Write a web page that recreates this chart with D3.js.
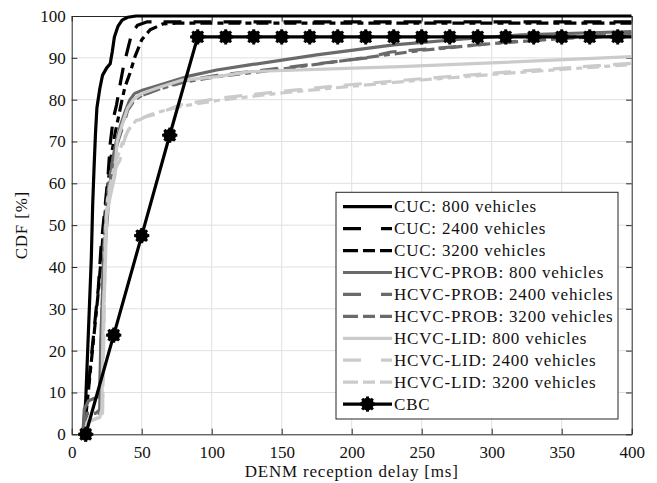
<!DOCTYPE html>
<html>
<head>
<meta charset="utf-8">
<script src="https://cdn.jsdelivr.net/npm/d3@7"></script>
<style>
  html, body { margin: 0; padding: 0; background: #fff; }
  svg { display: block; }
</style>
</head>
<body>
<svg id="chart" width="657" height="483" font-family="'Liberation Serif', 'DejaVu Serif', serif"></svg>
<script>
// Axis ticks
const xTicks = [0, 50, 100, 150, 200, 250, 300, 350, 400];
const yTicks = [0, 10, 20, 30, 40, 50, 60, 70, 80, 90, 100];

// Series: [delay (ms), CDF (%)]
const cuc800 = [[8,0],[10,8],[12,25],[14,42],[15,55],[16,64],[17,72],[18,78],[20,82.5],[22,85.8],[25,87.6],[27.5,88.6],[29,91.5],[30.5,95],[33,97.5],[36,99],[40,99.7],[46,100],[400,100]];
const cuc2400 = [[10,5],[13,15],[16,25],[19,35],[21,45],[24,55],[26,62],[27.5,69.5],[29.7,75.5],[32,78.7],[34.5,83.5],[37,88],[40.5,92.7],[43,96],[47,97.8],[54,98.6],[400,98.6]];
const cuc3200 = [[10,4],[13,14],[16,24],[19,34],[22,46],[25,57],[28,66],[31,72],[33.5,76],[36,80],[38,83],[41.6,86.3],[45.2,90.3],[50,94.3],[56,96.7],[65,98.1],[75,98.3],[400,98.3]];
const prob800 = [[8,0],[9,6],[12,8],[19,9],[20,10],[21,25],[23,40],[25,50],[27,58],[28.6,64],[30,67],[32,70.3],[35,74],[38,77],[41.6,80],[45,81.5],[51,82.3],[60,83.2],[82,85.5],[103.6,87.1],[127,88.3],[175,90.7],[230,93.1],[280,94.5],[322,95.5],[400,96.3]];
const prob2400 = [[9,0],[10,4],[15,5],[20,5],[21,22],[22.5,40],[24,50],[26,57],[28,62],[30,66],[33,70],[37,74],[40,77.5],[44,79.5],[50,81],[62,82.5],[80,84.5],[104,85.8],[151,87.6],[211,90],[228,91.4],[275,92.7],[320,94],[360,95],[400,95.8]];
const prob3200 = [[9,0],[11,5],[17,5],[20.5,6],[21.5,28],[23,45],[24.5,53],[26.5,60],[29,65],[31.5,69],[35,73],[39,77],[43,79.5],[50,81],[60,82.3],[80,84.2],[104,85.5],[150,87.3],[200,89.6],[250,91.8],[300,93.4],[350,94.6],[400,95.4]];
const lid800 = [[9,0],[11,3],[20,4],[21.5,6],[22.6,30],[24,40],[25,52],[27,56],[28.6,58.4],[31,62],[31.5,66],[32.5,70],[36,74],[40,78],[44,80],[50,81.5],[61,82.8],[78,84.6],[104,85.5],[127,86.7],[196,87.5],[235,87.9],[300,88.8],[400,90.3]];
const lid2400 = [[10,0],[12,3],[19,4],[22,5],[23,25],[24,45],[25,53],[27,58],[30,62],[32,64],[34.5,65.6],[37,69.7],[40,72.5],[43.8,74.4],[52,75.8],[63,76.8],[77,78.7],[104,80.3],[150,82],[196,83.5],[250,85],[315,86.7],[400,88.7]];
const lid3200 = [[10,0],[12,3],[19,4],[22,5],[23,28],[24,48],[25.5,56],[27,59],[29,62],[31,65],[34,67.5],[37,70.5],[41,73],[46,75],[55,76.3],[65,77.3],[80,78.5],[104,79.8],[150,81.6],[200,83.2],[250,84.7],[315,86.4],[400,88.4]];
const cbc = [[10,0],[30,23.7],[50,47.5],[70,71.5],[90,95],[110,95],[130,95],[150,95],[170,95],[190,95],[210,95],[230,95],[250,95],[270,95],[290,95],[310,95],[330,95],[350,95],[370,95],[390,95],[400,95]];
const cbcMarkerDelays = [10,30,50,70,90,110,130,150,170,190,210,230,250,270,290,310,330,350,370,390];

const seriesLabels = ["CUC: 800 vehicles","CUC: 2400 vehicles","CUC: 3200 vehicles",
  "HCVC-PROB: 800 vehicles","HCVC-PROB: 2400 vehicles","HCVC-PROB: 3200 vehicles",
  "HCVC-LID: 800 vehicles","HCVC-LID: 2400 vehicles","HCVC-LID: 3200 vehicles","CBC"];

const BLACK = "#000000", DARK = "#6a6a6a", LIGHT = "#cbcbcb";
const DASH = "18,12", DASHDOT = "12,5,6,5";
const LEG_DASH = "18,20", LEG_DASHDOT = "15,5,12,5";
const FONT = "'Liberation Serif', 'DejaVu Serif', serif";

const styles = [
  {data: cuc800,  color: BLACK, dash: null,    legDash: null},
  {data: cuc2400, color: BLACK, dash: DASH,    legDash: LEG_DASH},
  {data: cuc3200, color: BLACK, dash: DASHDOT, legDash: LEG_DASHDOT},
  {data: prob800, color: DARK,  dash: null,    legDash: null},
  {data: prob2400,color: DARK,  dash: DASH,    legDash: LEG_DASH},
  {data: prob3200,color: DARK,  dash: DASHDOT, legDash: LEG_DASHDOT},
  {data: lid800,  color: LIGHT, dash: null,    legDash: null},
  {data: lid2400, color: LIGHT, dash: DASH,    legDash: LEG_DASH},
  {data: lid3200, color: LIGHT, dash: DASHDOT, legDash: LEG_DASHDOT},
  {data: cbc,     color: BLACK, dash: null,    legDash: null, marker: true}
];

const svg = d3.select("#chart");
const plot = {left: 71.7, right: 631.7, top: 16, bottom: 434.3};
const x = d3.scaleLinear().domain([0, 400]).range([plot.left, plot.right]);
const y = d3.scaleLinear().domain([0, 100]).range([plot.bottom, plot.top]);
const LW = 3.2;
const AXIS = "#262626";

// grid
const grid = svg.append("g");
grid.selectAll("line.gx").data(xTicks.slice(1, -1)).join("line")
  .attr("x1", d => x(d)).attr("x2", d => x(d))
  .attr("y1", plot.top).attr("y2", plot.bottom)
  .attr("stroke", "#e0e0e0").attr("stroke-width", 1);
grid.selectAll("line.gy").data(yTicks.slice(1, -1)).join("line")
  .attr("x1", plot.left).attr("x2", plot.right)
  .attr("y1", d => y(d)).attr("y2", d => y(d))
  .attr("stroke", "#e0e0e0").attr("stroke-width", 1);

// axes with inward ticks on all four sides
const TK = 5.6;
function styleAxis(g) {
  g.attr("font-family", FONT).attr("font-size", 17);
  g.selectAll("path.domain").attr("stroke", AXIS).attr("stroke-width", 1);
  g.selectAll(".tick line").attr("stroke", AXIS).attr("stroke-width", 1);
  g.selectAll(".tick text").attr("fill", "#111");
}
svg.append("g").attr("transform", `translate(0,${plot.bottom})`)
  .call(d3.axisBottom(x).tickValues(xTicks).tickSizeInner(-TK).tickSizeOuter(0).tickPadding(12).tickFormat(d3.format("d")))
  .call(styleAxis);
svg.append("g").attr("transform", `translate(${plot.left},0)`)
  .call(d3.axisLeft(y).tickValues(yTicks).tickSizeInner(-TK).tickSizeOuter(0).tickPadding(6).tickFormat(d3.format("d")))
  .call(styleAxis);
svg.append("g").attr("transform", `translate(0,${plot.top})`)
  .call(d3.axisTop(x).tickValues(xTicks).tickSizeInner(-TK).tickSizeOuter(0).tickFormat(""))
  .call(styleAxis);
svg.append("g").attr("transform", `translate(${plot.right},0)`)
  .call(d3.axisRight(y).tickValues(yTicks).tickSizeInner(-TK).tickSizeOuter(0).tickFormat(""))
  .call(styleAxis);

// axis titles
svg.append("text").attr("x", (plot.left + plot.right) / 2).attr("y", 477)
  .attr("text-anchor", "middle").attr("font-family", FONT).attr("font-size", 17)
  .attr("letter-spacing", "0.8").attr("fill", "#111")
  .text("DENM reception delay [ms]");
svg.append("text").attr("transform", `translate(27,${(plot.top + plot.bottom) / 2}) rotate(-90)`)
  .attr("text-anchor", "middle").attr("font-family", FONT).attr("font-size", 17)
  .attr("letter-spacing", "0.8").attr("fill", "#111")
  .text("CDF [%]");

// curves
svg.append("clipPath").attr("id", "clip").append("rect")
  .attr("x", plot.left).attr("y", plot.top - 2)
  .attr("width", plot.right - plot.left).attr("height", plot.bottom - plot.top + 2);
const line = d3.line().x(d => x(d[0])).y(d => y(d[1]));
const curves = svg.append("g").attr("clip-path", "url(#clip)");
styles.forEach(s => {
  curves.append("path").datum(s.data).attr("d", line)
    .attr("fill", "none").attr("stroke", s.color).attr("stroke-width", LW)
    .attr("stroke-linejoin", "round")
    .attr("stroke-dasharray", s.dash);
});

// CBC markers: filled circle with spokes
function drawMarker(g, cx, cy) {
  const m = g.append("g").attr("transform", `translate(${cx},${cy})`);
  m.append("circle").attr("r", 6.3).attr("fill", BLACK);
  for (let a = 0; a < 180; a += 45) {
    const r = a * Math.PI / 180;
    m.append("line")
      .attr("x1", -7.6 * Math.cos(r)).attr("y1", -7.6 * Math.sin(r))
      .attr("x2", 7.6 * Math.cos(r)).attr("y2", 7.6 * Math.sin(r))
      .attr("stroke", BLACK).attr("stroke-width", 3);
  }
}
const markerLayer = svg.append("g");
cbc.filter(d => cbcMarkerDelays.includes(d[0]))
  .forEach(d => drawMarker(markerLayer, x(d[0]), y(d[1])));

// legend
const leg = {x0: 336, y0: 192.3, x1: 618, y1: 419};
const legend = svg.append("g");
legend.append("rect").attr("x", leg.x0).attr("y", leg.y0)
  .attr("width", leg.x1 - leg.x0).attr("height", leg.y1 - leg.y0)
  .attr("fill", "#fff").attr("stroke", AXIS).attr("stroke-width", 1);
const rowY = i => 206.7 + i * 21.93;
styles.forEach((s, i) => {
  legend.append("line").attr("x1", 343).attr("x2", 392)
    .attr("y1", rowY(i)).attr("y2", rowY(i))
    .attr("stroke", s.color).attr("stroke-width", LW)
    .attr("stroke-dasharray", s.legDash);
  if (s.marker) drawMarker(legend, 367.5, rowY(i));
  legend.append("text").attr("x", 394).attr("y", rowY(i)).attr("dy", "0.34em")
    .attr("font-family", FONT).attr("font-size", 17)
    .attr("letter-spacing", "0.8").attr("fill", "#111")
    .text(seriesLabels[i]);
});
</script>
</body>
</html>
